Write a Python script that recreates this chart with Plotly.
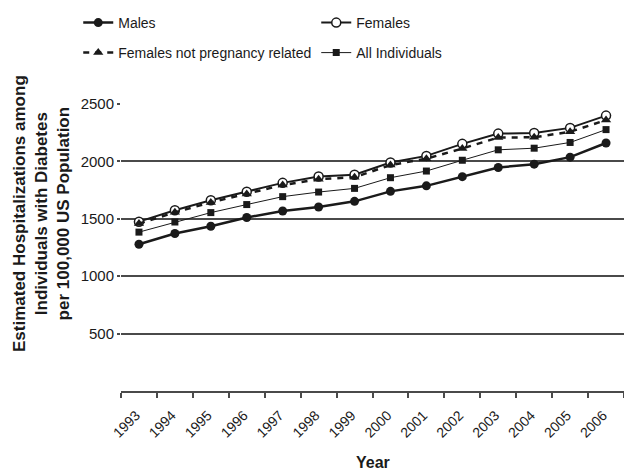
import plotly.graph_objects as go

# Estimated hospitalizations among individuals with diabetes, per 100,000 US population
years = [str(y) for y in range(1993, 2007)]
males = [1278, 1372, 1435, 1511, 1568, 1603, 1652, 1739, 1787, 1867, 1947, 1976, 2037, 2160]
females = [1475, 1574, 1661, 1735, 1813, 1869, 1884, 1990, 2048, 2153, 2242, 2247, 2292, 2399]
females_not_preg = [1458, 1556, 1643, 1716, 1794, 1845, 1862, 1968, 2024, 2112, 2208, 2210, 2258, 2360]
all_individuals = [1384, 1472, 1554, 1624, 1693, 1733, 1765, 1858, 1916, 2010, 2101, 2115, 2165, 2277]
y_ticks = [500, 1000, 1500, 2000, 2500]

INK = "#1a1a1a"
GRID = "#4a4a4a"
FONT = "Liberation Sans, Arial, sans-serif"

fig = go.Figure()

fig.add_trace(go.Scatter(
    x=years, y=males, name="Males", mode="lines+markers",
    line=dict(color=INK, width=2.5),
    marker=dict(symbol="circle", size=9, color=INK),
    legend="legend", legendrank=1,
))
fig.add_trace(go.Scatter(
    x=years, y=all_individuals, name="All Individuals", mode="lines+markers",
    line=dict(color=INK, width=1),
    marker=dict(symbol="square", size=7, color=INK),
    legend="legend2", legendrank=4,
))
fig.add_trace(go.Scatter(
    x=years, y=females, name="Females", mode="lines+markers",
    line=dict(color=INK, width=2),
    marker=dict(symbol="circle", size=9, color="white", line=dict(color=INK, width=1.5)),
    legend="legend", legendrank=2,
))
fig.add_trace(go.Scatter(
    x=years, y=females_not_preg, name="Females not pregnancy related", mode="lines+markers",
    line=dict(color=INK, width=2.5, dash="6px,6px"),
    marker=dict(symbol="triangle-up", size=9, color=INK),
    legend="legend2", legendrank=3,
))

legend_common = dict(
    orientation="h",
    xanchor="left", yanchor="middle",
    x=-0.085,
    font=dict(family=FONT, size=14, color=INK),
    entrywidth=193, entrywidthmode="pixels",
    bgcolor="rgba(0,0,0,0)",
    traceorder="normal",
)

fig.update_layout(
    width=624, height=470,
    margin=dict(l=121, r=0, t=104, b=79),
    paper_bgcolor="white", plot_bgcolor="white",
    font=dict(family=FONT, color=INK),
    legend=dict(y=(391 - 23) / 287, **legend_common),
    legend2=dict(y=(391 - 53) / 287, **legend_common),
    xaxis=dict(
        type="category",
        range=[-0.5, len(years) - 0.5],
        tickson="boundaries",
        ticks="outside", ticklen=5, tickwidth=1.5, tickcolor=GRID,
        showline=True, linecolor=GRID, linewidth=1.5,
        showgrid=False,
        tickangle=-45,
        ticklabelshift=-3,
        ticklabelstandoff=9,
        tickfont=dict(family=FONT, size=14, color=INK),
    ),
    yaxis=dict(
        range=[0, 2500],
        tickvals=y_ticks,
        ticks="outside", ticklen=3, tickwidth=1.5, tickcolor=GRID,
        showgrid=True, gridcolor=GRID, gridwidth=1.5,
        showline=False, zeroline=False,
        tickfont=dict(family=FONT, size=15, color=INK),
    ),
    showlegend=True,
)

fig.add_annotation(
    text="<b>Estimated Hospitalizations among<br>Individuals with Diabetes<br>per 100,000 US Population</b>",
    xref="paper", yref="paper",
    x=(41 - 121) / 503, y=(391 - 214) / 287,
    xanchor="center", yanchor="middle",
    textangle=-90, showarrow=False,
    font=dict(family=FONT, size=17, color=INK),
)
fig.add_annotation(
    text="<b>Year</b>",
    xref="paper", yref="paper",
    x=0.5, y=(391 - 462) / 287,
    xanchor="center", yanchor="middle",
    showarrow=False,
    font=dict(family=FONT, size=16, color=INK),
)

fig.write_html("out.html")
